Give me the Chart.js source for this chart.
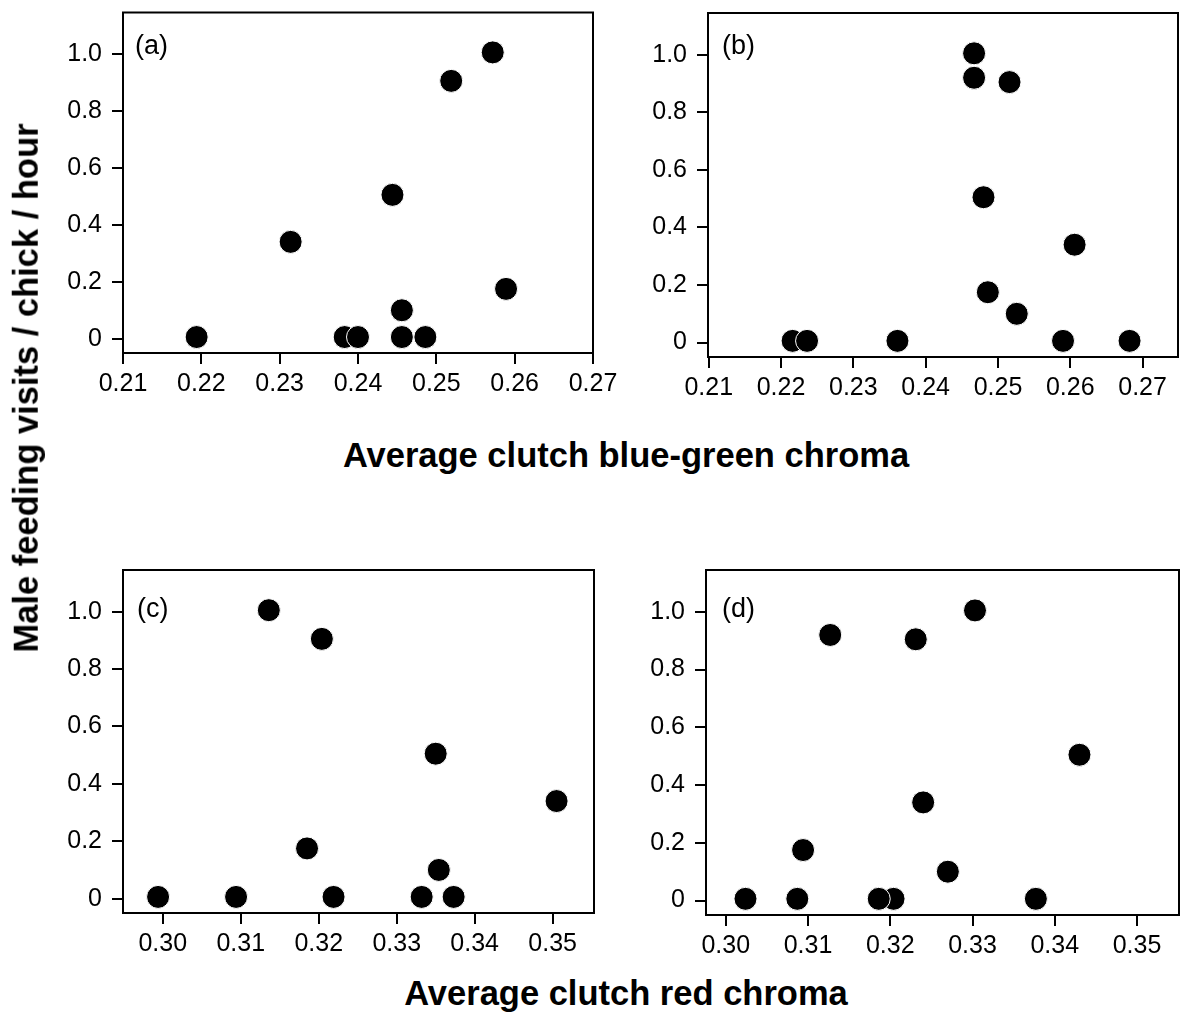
<!DOCTYPE html>
<html>
<head>
<meta charset="utf-8">
<script src="https://cdn.jsdelivr.net/npm/chart.js@4.4.1/dist/chart.umd.min.js"></script>
<style>
  body { margin: 0; background: #fff; }
  #wrap { position: relative; width: 1182px; height: 1012px; overflow: hidden; font-family: 'Liberation Sans', Arial, sans-serif; color: #000; }
  canvas { position: absolute; }
  .lbl { position: absolute; white-space: nowrap; line-height: 1; }
  .title { font-weight: bold; font-size: 34.5px; transform: translate(-50%, -50%); }
  .panel { font-size: 27px; transform: translateY(-50%); }
  #ytitle { left: 26px; top: 388px; transform: translate(-50%, -50%) rotate(-90deg); }
</style>
</head>
<body>
<div id="wrap">
  <canvas id="chartA" width="640" height="420" style="left:0px;top:0px"></canvas>
  <canvas id="chartB" width="620" height="420" style="left:640px;top:0px"></canvas>
  <canvas id="chartC" width="640" height="420" style="left:0px;top:540px"></canvas>
  <canvas id="chartD" width="620" height="420" style="left:640px;top:540px"></canvas>
  <div class="lbl title" id="ytitle">Male feeding visits / chick / hour</div>
  <div class="lbl title" style="left:626px;top:455px">Average clutch blue-green chroma</div>
  <div class="lbl title" style="left:626px;top:993px">Average clutch red chroma</div>
  <div class="lbl panel" style="left:135px;top:45px">(a)</div>
  <div class="lbl panel" style="left:722px;top:45px">(b)</div>
  <div class="lbl panel" style="left:137px;top:608px">(c)</div>
  <div class="lbl panel" style="left:722px;top:608px">(d)</div>
</div>
<script>
// tick labels
const yTicks = [0, 0.2, 0.4, 0.6, 0.8, 1.0];
const blueGreenTicks = [0.21, 0.22, 0.23, 0.24, 0.25, 0.26, 0.27];
const redTicks = [0.30, 0.31, 0.32, 0.33, 0.34, 0.35];

// (a) male visits vs blue-green chroma
const chromaA = [0.2194, 0.2314, 0.2383, 0.2400, 0.2444, 0.2456, 0.2456, 0.2486, 0.2519, 0.2572, 0.2589];
const visitsA = [0.006, 0.34, 0.006, 0.006, 0.505, 0.1, 0.006, 0.006, 0.905, 1.005, 0.175];

// (b)
const chromaB = [0.2216, 0.2236, 0.2361, 0.2467, 0.2467, 0.2480, 0.2486, 0.2516, 0.2526, 0.2590, 0.2606, 0.2682];
const visitsB = [0.006, 0.006, 0.006, 1.005, 0.92, 0.505, 0.175, 0.905, 0.1, 0.006, 0.34, 0.006];

// (c) male visits vs red chroma
const chromaC = [0.2994, 0.3094, 0.3136, 0.3185, 0.3204, 0.3219, 0.3332, 0.3350, 0.3354, 0.3373, 0.3505];
const visitsC = [0.006, 0.006, 1.005, 0.175, 0.905, 0.006, 0.006, 0.505, 0.1, 0.006, 0.34];

// (d)
const chromaD = [0.3024, 0.3087, 0.3094, 0.3127, 0.3204, 0.3186, 0.3231, 0.3240, 0.3270, 0.3303, 0.3377, 0.3430];
const visitsD = [0.006, 0.006, 0.175, 0.92, 0.006, 0.006, 0.905, 0.34, 0.1, 1.005, 0.006, 0.505];

const FONT = "'Liberation Sans', Arial, sans-serif";

// full box around the plot area
const boxPlugin = {
  id: 'box',
  afterDraw(chart) {
    const a = chart.chartArea, ctx = chart.ctx;
    ctx.save();
    ctx.strokeStyle = '#000';
    ctx.lineWidth = 2;
    ctx.strokeRect(a.left, a.top, a.right - a.left, a.bottom - a.top);
    ctx.restore();
  }
};

function makePanel(id, xs, ys, xTicks, xMin, xMax, canvasX, canvasY, box) {
  const cv = document.getElementById(id);
  const pts = xs.map((x, i) => ({ x: x, y: ys[i] }));
  const yWidth = box.l - canvasX;
  const xHeight = canvasY + cv.height - box.b;
  new Chart(cv, {
    type: 'scatter',
    data: {
      datasets: [{
        data: pts,
        backgroundColor: '#000',
        borderColor: '#fff',
        borderWidth: 1,
        pointRadius: 11.5,
        pointHoverRadius: 11.5
      }]
    },
    options: {
      responsive: false,
      animation: false,
      layout: {
        padding: { left: 0, bottom: 0, top: box.t - canvasY, right: cv.width - (box.r - canvasX) }
      },
      plugins: { legend: { display: false }, tooltip: { enabled: false } },
      scales: {
        x: {
          type: 'linear',
          min: xMin,
          max: xMax,
          afterBuildTicks: s => { s.ticks = xTicks.map(v => ({ value: v })); },
          afterFit: s => { s.height = xHeight; s.paddingLeft = 0; s.paddingRight = 0; },
          border: { display: false },
          grid: { drawOnChartArea: false, drawTicks: true, tickLength: 11, color: '#000', lineWidth: 2 },
          ticks: { color: '#000', padding: 5, maxRotation: 0, font: { family: FONT, size: 25 }, callback: v => v.toFixed(2) }
        },
        y: {
          type: 'linear',
          min: -0.05,
          max: 1.145,
          afterBuildTicks: s => { s.ticks = yTicks.map(v => ({ value: v })); },
          afterFit: s => { s.width = yWidth; s.paddingTop = 0; s.paddingBottom = 0; },
          border: { display: false },
          grid: { drawOnChartArea: false, drawTicks: true, tickLength: 11, color: '#000', lineWidth: 2 },
          ticks: { color: '#000', padding: 10, font: { family: FONT, size: 25 }, callback: v => v === 0 ? '0' : v.toFixed(1) }
        }
      }
    },
    plugins: [boxPlugin]
  });
}

makePanel('chartA', chromaA, visitsA, blueGreenTicks, 0.21, 0.27, 0, 0, { l: 123, t: 8, r: 593, b: 353 });
makePanel('chartB', chromaB, visitsB, blueGreenTicks, 0.2099, 0.2749, 640, 0, { l: 708, t: 13, r: 1178, b: 357 });
makePanel('chartC', chromaC, visitsC, redTicks, 0.2949, 0.3553, 0, 540, { l: 123, t: 570, r: 594, b: 913 });
makePanel('chartD', chromaD, visitsD, redTicks, 0.2976, 0.3551, 640, 540, { l: 706, t: 570, r: 1179, b: 915 });
</script>
</body>
</html>
